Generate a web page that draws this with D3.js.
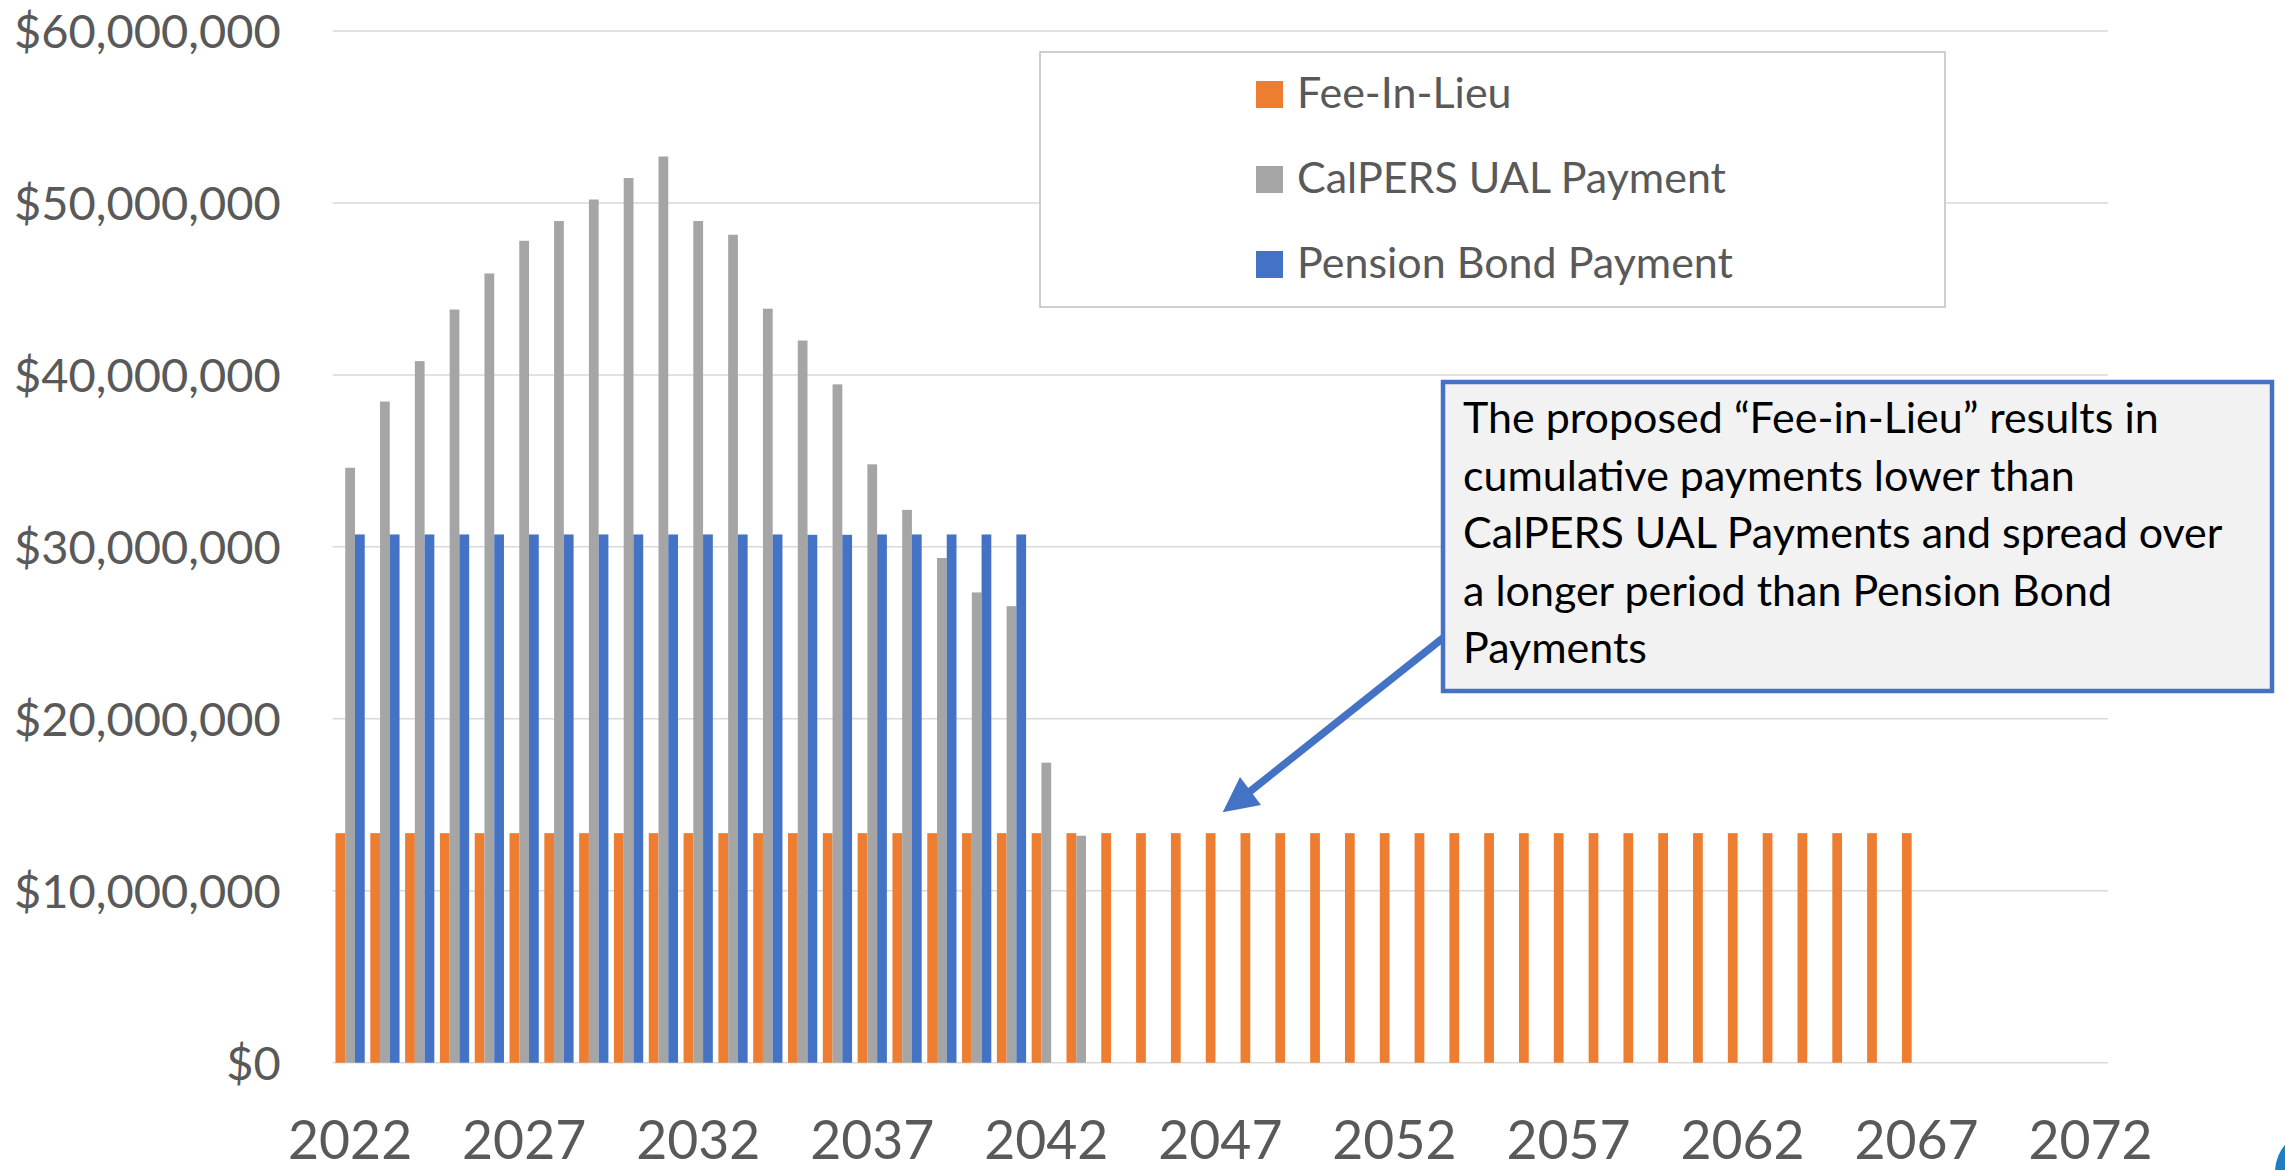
<!DOCTYPE html>
<html>
<head>
  <title>Fee-In-Lieu vs CalPERS UAL vs Pension Bond Payments</title>
  <style>
    html, body {
      margin: 0;
      padding: 0;
      background: #fff;
    }
    svg {
      display: block;
      font-family: Lato, "Open Sans", sans-serif;
    }
    .grid line {
      stroke: #d9d9d9;
      stroke-width: 1.5px;
    }
    .axis text {
      fill: #595959;
    }
    .y-axis text {
      font-size: 47px;
    }
    .x-axis text {
      font-size: 53.5px;
    }
    .legend-box {
      fill: #fff;
      stroke: #bfbfbf;
      stroke-width: 1.5px;
    }
    .legend text {
      font-size: 43px;
      fill: #595959;
    }
    .note-box {
      fill: #f2f2f2;
      stroke: #4472c4;
      stroke-width: 4.5px;
    }
    .note text {
      font-size: 43px;
      fill: #000;
    }
  </style>
</head>
<body>
  <svg id="chart" width="2285" height="1170"></svg>

  <script src="https://d3js.org/d3.v7.min.js"></script>
  <script>
    // categories (one bar group per year)
    const years = [
      2022, 2023, 2024, 2025, 2026, 2027, 2028, 2029, 2030, 2031,
      2032, 2033, 2034, 2035, 2036, 2037, 2038, 2039, 2040, 2041,
      2042, 2043, 2044, 2045, 2046, 2047, 2048, 2049, 2050, 2051,
      2052, 2053, 2054, 2055, 2056, 2057, 2058, 2059, 2060, 2061,
      2062, 2063, 2064, 2065, 2066, 2067, 2068, 2069, 2070, 2071,
      2072
    ];
    const yearTicks = [2022, 2027, 2032, 2037, 2042, 2047, 2052, 2057, 2062, 2067, 2072];
    const valueTicks = [0, 10, 20, 30, 40, 50, 60]; // $ millions

    const seriesNames = ["Fee-In-Lieu", "CalPERS UAL Payment", "Pension Bond Payment"];
    const seriesColors = ["#ed7d31", "#a5a5a5", "#4472c4"];

    // $ millions, starting 2022
    const feeInLieu = [
      13.35, 13.35, 13.35, 13.35, 13.35, 13.35, 13.35, 13.35, 13.35, 13.35,
      13.35, 13.35, 13.35, 13.35, 13.35, 13.35, 13.35, 13.35, 13.35, 13.35,
      13.35, 13.35, 13.35, 13.35, 13.35, 13.35, 13.35, 13.35, 13.35, 13.35,
      13.35, 13.35, 13.35, 13.35, 13.35, 13.35, 13.35, 13.35, 13.35, 13.35,
      13.35, 13.35, 13.35, 13.35, 13.35, 13.35
    ];
    const calpersUal = [
      34.6, 38.45, 40.8, 43.8, 45.9, 47.8, 48.95, 50.2, 51.45, 52.7,
      48.95, 48.15, 43.85, 42.0, 39.45, 34.8, 32.15, 29.35, 27.35, 26.55,
      17.45, 13.2
    ];
    const pensionBond = [
      30.72, 30.72, 30.72, 30.72, 30.72, 30.72, 30.72, 30.72, 30.72, 30.72,
      30.72, 30.72, 30.72, 30.7, 30.7, 30.72, 30.72, 30.72, 30.72, 30.72
    ];

    const noteLines = [
      "The proposed \u201cFee-in-Lieu\u201d results in",
      "cumulative payments lower than",
      "CalPERS UAL Payments and spread over",
      "a longer period than Pension Bond",
      "Payments"
    ];

    const plot = { left: 332.7, right: 2108, top: 31, bottom: 1062.7 };

    const svg = d3.select("#chart");

    const rows = years.map((year, i) => ({
      year: year,
      values: [feeInLieu[i], calpersUal[i], pensionBond[i]]
    }));

    const x0 = d3.scaleBand()
                 .domain(years)
                 .range([plot.left, plot.right])
                 .paddingInner(0.16)
                 .paddingOuter(0.08);

    const x1 = d3.scaleBand()
                 .domain(d3.range(seriesNames.length))
                 .range([0, x0.bandwidth()]);

    const y = d3.scaleLinear()
                .domain([0, 60])
                .range([plot.bottom, plot.top]);

    // gridlines
    svg.append("g")
       .attr("class", "grid")
       .selectAll("line")
       .data(valueTicks)
       .enter()
       .append("line")
       .attr("x1", plot.left)
       .attr("x2", plot.right)
       .attr("y1", d => y(d))
       .attr("y2", d => y(d));

    // bars
    const groups = svg.append("g")
                      .selectAll("g")
                      .data(rows)
                      .enter()
                      .append("g")
                      .attr("transform", d => `translate(${x0(d.year)},0)`);

    groups.selectAll("rect")
          .data(d => d.values.map((v, k) => ({ k: k, v: v })).filter(e => e.v != null))
          .enter()
          .append("rect")
          .attr("x", d => x1(d.k))
          .attr("width", x1.bandwidth())
          .attr("y", d => y(d.v))
          .attr("height", d => y(0) - y(d.v))
          .attr("fill", d => seriesColors[d.k]);

    // axes
    const yAxis = d3.axisLeft(y)
                    .tickValues(valueTicks)
                    .tickSize(0)
                    .tickPadding(52)
                    .tickFormat(d => "$" + d3.format(",")(d * 1e6));

    svg.append("g")
       .attr("class", "axis y-axis")
       .attr("transform", `translate(${plot.left},0)`)
       .call(yAxis)
       .call(g => g.select(".domain").remove())
       .selectAll("text")
       .attr("dy", "0.36em");

    const xAxis = d3.axisBottom(x0)
                    .tickValues(yearTicks)
                    .tickSize(0)
                    .tickPadding(58);

    svg.append("g")
       .attr("class", "axis x-axis")
       .attr("transform", `translate(0,${plot.bottom})`)
       .call(xAxis)
       .call(g => g.select(".domain").remove());

    svg.selectAll(".axis").attr("font-family", null).attr("font-size", null);

    // legend
    const legend = svg.append("g").attr("class", "legend");

    legend.append("rect")
          .attr("class", "legend-box")
          .attr("x", 1040)
          .attr("y", 52)
          .attr("width", 905)
          .attr("height", 255);

    const legendItems = legend.selectAll(".legend-item")
                              .data(seriesNames)
                              .enter()
                              .append("g")
                              .attr("class", "legend-item")
                              .attr("transform", (d, i) => `translate(1256, ${81 + i * 85})`);

    legendItems.append("rect")
               .attr("width", 27)
               .attr("height", 27)
               .attr("fill", (d, i) => seriesColors[i]);

    legendItems.append("text")
               .attr("x", 41)
               .attr("y", 27)
               .text(d => d);

    // callout
    const note = svg.append("g").attr("class", "note");

    note.append("line")
        .attr("x1", 1443)
        .attr("y1", 638)
        .attr("x2", 1248)
        .attr("y2", 793)
        .attr("stroke", "#4472c4")
        .attr("stroke-width", 7.5);

    note.append("polygon")
        .attr("points", "1222.7,812.3 1240,777 1261,805")
        .attr("fill", "#4472c4");

    note.append("rect")
        .attr("class", "note-box")
        .attr("x", 1443)
        .attr("y", 382)
        .attr("width", 829)
        .attr("height", 309);

    note.selectAll("text.line")
        .data(noteLines)
        .enter()
        .append("text")
        .attr("class", "line")
        .attr("x", 1463)
        .attr("y", (d, i) => 433 + i * 57.5)
        .text(d => d);

    // logo corner cut off at the edge of the slide
    svg.append("circle")
       .attr("cx", 2317)
       .attr("cy", 1172)
       .attr("r", 42)
       .attr("fill", "#1f7dc1");
  </script>
</body>
</html>
